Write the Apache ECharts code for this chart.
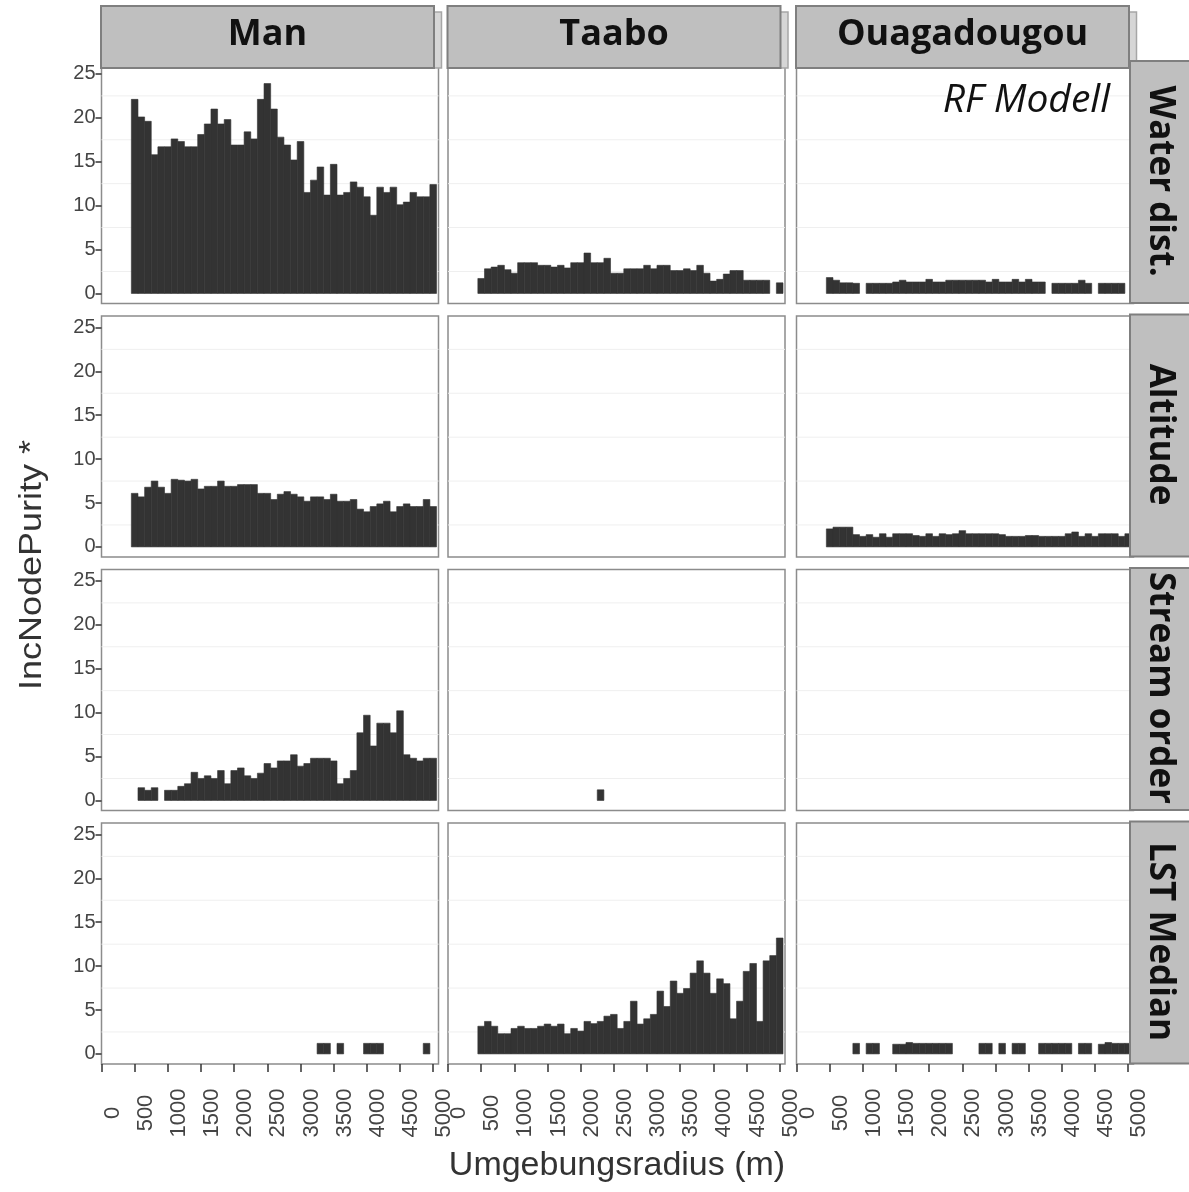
<!DOCTYPE html>
<html>
<head>
<meta charset="utf-8">
<title>IncNodePurity RF Modell</title>
<script src="https://cdn.jsdelivr.net/npm/echarts@6.0.0/dist/echarts.min.js"></script>
<style>
  html, body { margin: 0; padding: 0; background: #fff; }
  #main { width: 1189px; height: 1192px; }
</style>
</head>
<body>
<div id="main"></div>
<script>
// Umgebungsradius (m) der Balken, Bin-Breite 100 m
var radius = [500, 600, 700, 800, 900, 1000, 1100, 1200, 1300, 1400,
              1500, 1600, 1700, 1800, 1900, 2000, 2100, 2200, 2300, 2400,
              2500, 2600, 2700, 2800, 2900, 3000, 3100, 3200, 3300, 3400,
              3500, 3600, 3700, 3800, 3900, 4000, 4100, 4200, 4300, 4400,
              4500, 4600, 4700, 4800, 4900, 5000];
var sites = ['Man', 'Taabo', 'Ouagadougou'];
var variables = ['Water dist.', 'Altitude', 'Stream order', 'LST Median'];
var xTicks = [0, 500, 1000, 1500, 2000, 2500, 3000, 3500, 4000, 4500, 5000];
var yTicks = [0, 5, 10, 15, 20, 25];
var yMinor = [2.5, 7.5, 12.5, 17.5, 22.5];
var _ = null;

// Water dist.
var manWater = [22.1, 20.1, 19.6, 15.8, 16.7, 16.7, 17.6, 17.3, 16.7, 16.7,
                18.1, 19.3, 21.0, 19.3, 19.8, 16.9, 16.9, 18.4, 17.6, 22.1,
                23.9, 21.0, 17.8, 16.9, 15.2, 17.3, 11.5, 12.9, 14.4, 11.2,
                14.7, 11.2, 11.5, 12.7, 12.1, 11.0, 8.9, 12.1, 11.5, 12.1,
                10.1, 10.4, 11.5, 11.0, 11.0, 12.4];
var taaboWater = [1.7, 2.8, 3.0, 3.2, 2.7, 2.3, 3.5, 3.5, 3.5, 3.2,
                  3.2, 3.0, 3.2, 2.9, 3.5, 3.5, 4.6, 3.5, 3.5, 4.0,
                  2.3, 2.3, 2.8, 2.8, 2.8, 3.2, 2.8, 3.2, 3.2, 2.6,
                  2.6, 2.8, 2.6, 3.2, 2.3, 1.4, 1.6, 2.2, 2.6, 2.6,
                  1.5, 1.5, 1.5, 1.5, _, 1.2];
var ouagaWater = [1.8, 1.5, 1.2, 1.2, 1.15, _, 1.15, 1.15, 1.15, 1.15,
                  1.3, 1.5, 1.3, 1.3, 1.3, 1.6, 1.3, 1.3, 1.5, 1.5,
                  1.5, 1.5, 1.5, 1.5, 1.3, 1.6, 1.3, 1.3, 1.6, 1.3,
                  1.6, 1.3, 1.3, _, 1.15, 1.15, 1.15, 1.15, 1.5, 1.15,
                  _, 1.15, 1.15, 1.15, 1.15, _];

// Altitude
var manAltitude = [6.1, 5.7, 6.8, 7.5, 6.8, 6.1, 7.7, 7.6, 7.5, 7.7,
                   6.6, 6.9, 6.9, 7.5, 6.9, 6.9, 7.1, 7.1, 7.1, 6.1,
                   6.1, 5.4, 6.0, 6.3, 6.0, 5.7, 5.2, 5.7, 5.7, 5.4,
                   6.0, 5.2, 5.2, 5.4, 4.3, 4.0, 4.6, 4.9, 5.2, 4.0,
                   4.6, 4.9, 4.6, 4.6, 5.4, 4.6];
var taaboAltitude = [];
var ouagaAltitude = [2.05, 2.25, 2.25, 2.25, 1.4, 1.2, 1.4, 1.1, 1.5, 1.1,
                     1.5, 1.5, 1.5, 1.3, 1.2, 1.5, 1.2, 1.5, 1.4, 1.5,
                     1.85, 1.5, 1.5, 1.5, 1.5, 1.5, 1.4, 1.2, 1.2, 1.2,
                     1.3, 1.3, 1.2, 1.2, 1.2, 1.2, 1.5, 1.7, 1.2, 1.5,
                     1.2, 1.5, 1.5, 1.5, 1.2, 1.5];

// Stream order
var manStream = [_, 1.45, 1.15, 1.45, _, 1.15, 1.15, 1.6, 1.9, 3.2,
                 2.5, 2.8, 2.5, 3.4, 1.9, 3.4, 3.7, 2.8, 2.5, 3.1,
                 4.2, 3.7, 4.5, 4.5, 5.2, 3.9, 4.2, 4.8, 4.8, 4.8,
                 4.5, 1.9, 2.5, 3.4, 7.7, 9.7, 6.2, 8.8, 8.8, 7.7,
                 10.2, 5.2, 4.8, 4.5, 4.8, 4.8];
var taaboStream = [_, _, _, _, _, _, _, _, _, _,
                   _, _, _, _, _, _, _, _, 1.2, _,
                   _, _, _, _, _, _, _, _, _, _,
                   _, _, _, _, _, _, _, _, _, _,
                   _, _, _, _, _, _];
var ouagaStream = [];

// LST Median
var manLst = [_, _, _, _, _, _, _, _, _, _,
              _, _, _, _, _, _, _, _, _, _,
              _, _, _, _, _, _, _, _, 1.2, 1.2,
              _, 1.2, _, _, _, 1.2, 1.2, 1.2, _, _,
              _, _, _, _, 1.2, _];
var taaboLst = [3.15, 3.7, 3.15, 2.3, 2.3, 2.9, 3.15, 2.9, 2.9, 3.15,
                3.4, 3.15, 3.4, 2.3, 2.9, 2.6, 3.7, 3.45, 3.7, 4.3,
                4.5, 2.9, 3.7, 6.0, 3.4, 4.0, 4.5, 7.15, 5.4, 8.3,
                6.9, 7.45, 9.2, 10.6, 9.2, 6.9, 8.55, 8.0, 4.0, 6.0,
                9.4, 10.3, 3.7, 10.6, 11.2, 13.2];
var ouagaLst = [_, _, _, _, 1.2, _, 1.2, 1.2, _, _,
                1.1, 1.1, 1.3, 1.2, 1.2, 1.2, 1.2, 1.2, 1.2, _,
                _, _, _, 1.2, 1.2, _, 1.2, _, 1.2, 1.2,
                _, _, 1.2, 1.2, 1.2, 1.2, 1.2, _, 1.2, 1.2,
                _, 1.1, 1.3, 1.2, 1.2, 1.2];

var panels = [
  [manWater, taaboWater, ouagaWater],
  [manAltitude, taaboAltitude, ouagaAltitude],
  [manStream, taaboStream, ouagaStream],
  [manLst, taaboLst, ouagaLst]
];

// Layout
var colLeft = [101.5, 448, 796.5];
var rowTop = [62.5, 316, 569.5, 823];
var panelW = 337, panelH = 241;
var xMax = 5080, yMin = -1.15, yMax = 26.3;
var halfBin = 50;

function plainNumber(v) { return String(v); }

function renderBar(params, api) {
  var x = api.value(0), v = api.value(1);
  var a = api.coord([x - halfBin, v]);
  var b = api.coord([x + halfBin, 0]);
  return {
    type: 'rect',
    shape: { x: a[0], y: a[1], width: b[0] - a[0], height: b[1] - a[1] },
    style: { fill: '#333333', stroke: '#333333', lineWidth: 0.6 }
  };
}

function renderGridLine(params, api) {
  var y = api.value(1);
  var a = api.coord([0, y]);
  var b = api.coord([xMax, y]);
  return {
    type: 'line',
    shape: { x1: a[0], y1: a[1], x2: b[0], y2: b[1] },
    style: { stroke: '#efefef', lineWidth: 1 }
  };
}

// gedrehte x-Beschriftung, wie im Original leicht rechts neben dem Tick
function renderXLabel(params, api) {
  var v = api.value(0);
  var p = api.coord([v, yMin]);
  return {
    type: 'text', x: p[0] + 11, y: p[1] + 49, rotation: Math.PI / 2,
    style: {
      text: String(v), fontFamily: 'Liberation Sans', fontSize: 22, fill: '#444',
      align: 'center', verticalAlign: 'middle'
    }
  };
}

var grids = [], xAxes = [], yAxes = [], series = [], graphics = [];

for (var r = 0; r < 4; r++) {
  for (var c = 0; c < 3; c++) {
    var idx = r * 3 + c;
    grids.push({
      left: colLeft[c], top: rowTop[r], width: panelW, height: panelH,
      show: true, backgroundColor: '#ffffff',
      borderColor: '#8c8c8c', borderWidth: 1.5
    });
    xAxes.push({
      type: 'value', gridIndex: idx, min: 0, max: xMax, position: 'bottom',
      axisLine: { show: false, onZero: false },
      splitLine: { show: false },
      axisTick: {
        show: r === 3, customValues: xTicks, length: 8,
        lineStyle: { color: '#333', width: 1.5 }
      },
      axisLabel: { show: false }
    });
    yAxes.push({
      type: 'value', gridIndex: idx, min: yMin, max: yMax, position: 'left',
      axisLine: { show: false, onZero: false },
      splitLine: { show: false },
      axisTick: {
        show: c === 0, customValues: yTicks, length: 6,
        lineStyle: { color: '#333', width: 1.5 }
      },
      axisLabel: {
        show: c === 0, customValues: yTicks, margin: 6, formatter: plainNumber,
        fontFamily: "'Liberation Sans Narrow', 'Liberation Sans'",
        fontSize: 20, color: '#444'
      }
    });
    series.push({
      type: 'custom', xAxisIndex: idx, yAxisIndex: idx, silent: true, z: 1,
      renderItem: renderGridLine,
      data: yMinor.map(function (v) { return [0, v]; })
    });
    var vals = panels[r][c];
    var data = [];
    for (var i = 0; i < radius.length; i++) {
      if (vals[i] != null) data.push([radius[i], vals[i]]);
    }
    series.push({
      type: 'custom', name: variables[r] + ' / ' + sites[c],
      xAxisIndex: idx, yAxisIndex: idx, z: 2, clip: true,
      renderItem: renderBar, data: data
    });
    if (r === 3) {
      series.push({
        type: 'custom', xAxisIndex: idx, yAxisIndex: idx, silent: true, z: 3,
        clip: false, renderItem: renderXLabel,
        data: xTicks.map(function (v) { return [v, yMin]; })
      });
    }
  }
}

// Strips (Standorte oben)
for (var c = 0; c < 3; c++) {
  graphics.push({
    type: 'rect', z: 100,
    shape: { x: colLeft[c] + 7, y: 12, width: 333, height: 56 },
    style: { fill: '#d6d6d6', stroke: '#a6a6a6', lineWidth: 1.5 }
  });
  graphics.push({
    type: 'rect', z: 101,
    shape: { x: colLeft[c] - 0.5, y: 6, width: 333, height: 62 },
    style: { fill: '#bfbfbf', stroke: '#7f7f7f', lineWidth: 2 }
  });
  graphics.push({
    type: 'text', z: 102, x: colLeft[c] + 166, y: 35,
    style: {
      text: sites[c], fontFamily: 'Open Sans', fontWeight: 'bold', fontSize: 36,
      fill: '#111', align: 'center', verticalAlign: 'middle'
    }
  });
}

// Strips (Variablen rechts)
for (var r = 0; r < 4; r++) {
  graphics.push({
    type: 'rect', z: 100,
    shape: { x: 1130, y: rowTop[r] - 1.5, width: 70, height: panelH + 1 },
    style: { fill: '#bfbfbf', stroke: '#7f7f7f', lineWidth: 2 }
  });
  graphics.push({
    type: 'text', z: 102, x: 1160, y: rowTop[r] + panelH / 2 - 2,
    rotation: -Math.PI / 2,
    style: {
      text: variables[r], fontFamily: 'Open Sans', fontWeight: 'bold', fontSize: 35,
      fill: '#111', align: 'center', verticalAlign: 'middle'
    }
  });
}

// Achsentitel und Modellbeschriftung
graphics.push({
  type: 'text', z: 102, x: 1110, y: 101,
  style: {
    text: 'RF Modell', fontFamily: 'Open Sans', fontStyle: 'italic', fontSize: 39,
    fill: '#111', align: 'right', verticalAlign: 'middle'
  }
});
graphics.push({
  type: 'text', z: 102, x: 33, y: 565, rotation: Math.PI / 2, scaleY: 0.85,
  style: {
    text: 'IncNodePurity *', fontFamily: 'Liberation Sans', fontSize: 36,
    fill: '#333', align: 'center', verticalAlign: 'middle'
  }
});
graphics.push({
  type: 'text', z: 102, x: 617, y: 1166,
  style: {
    text: 'Umgebungsradius (m)', fontFamily: 'Liberation Sans', fontSize: 34,
    fill: '#333', align: 'center', verticalAlign: 'middle'
  }
});

var chart = echarts.init(document.getElementById('main'));
chart.setOption({
  animation: false,
  backgroundColor: '#ffffff',
  grid: grids,
  xAxis: xAxes,
  yAxis: yAxes,
  series: series,
  graphic: graphics
});
</script>
</body>
</html>
